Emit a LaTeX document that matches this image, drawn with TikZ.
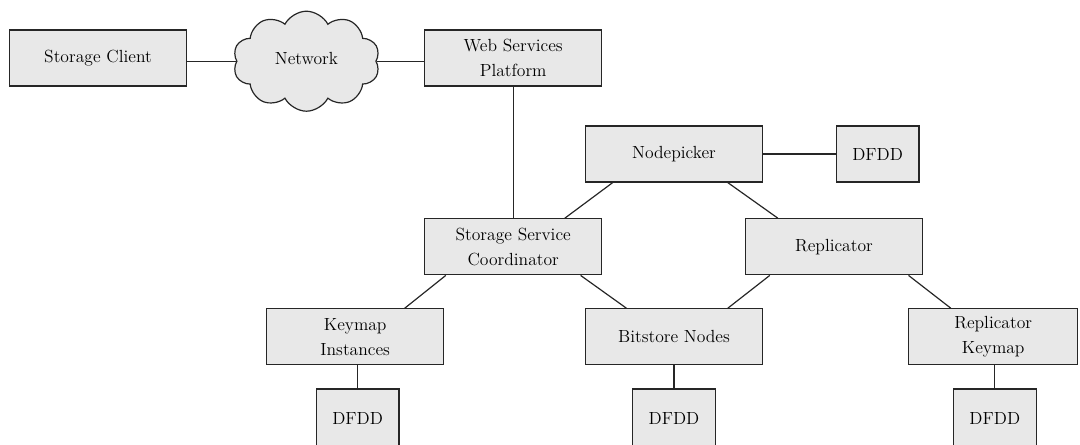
\documentclass[tikz,border=0pt]{standalone}
\usepackage{tikz}
\usetikzlibrary{shapes.symbols}

\begin{document}
\begin{tikzpicture}[main/.style = {draw=black!85, fill=black!9, line width=0.85pt, rectangle, align=center, font=\fontsize{12.5}{18}\selectfont},
        wide/.style = {main, minimum width=4.42cm, minimum height=1.4cm},
        small/.style = {main, minimum width=2.07cm, minimum height=1.4cm},
        low/.style = {main, minimum width=2.07cm, minimum height=1.45cm},
        ar/.style={draw=black!85, line width=0.85pt}]
        \clip (0,0) rectangle (27,-11.1);

        \node[wide] (client) at (2.45,-1.45) {Storage Client};
        \node[main, cloud, cloud puffs=10, cloud puff arc=125, aspect=1.5, minimum width=3.67cm, minimum height=2.5cm, inner sep=0pt] (network) at (7.66,-1.53) {\raisebox{4pt}{Network}};
        \node[wide] (platform) at (12.83,-1.45) {Web Services\\Platform};

        \node[wide] (picker) at (16.85,-3.85) {Nodepicker};
        \node[small] (dfdd1) at (21.94,-3.85) {DFDD};

        \node[wide] (coord) at (12.83,-6.17) {Storage Service\\Coordinator};
        \node[wide] (replicator) at (20.85,-6.17) {Replicator};

        \node[wide] (keymap) at (8.88,-8.42) {Keymap\\Instances};
        \node[wide] (bitstore) at (16.85,-8.42) {Bitstore Nodes};
        \node[main, minimum width=4.23cm, minimum height=1.4cm] (repkeymap) at (24.83,-8.42) {Replicator\\Keymap};

        \node[low] (dfdd2) at (8.94,-10.45) {DFDD};
        \node[low] (dfdd3) at (16.85,-10.45) {DFDD};
        \node[low] (dfdd4) at (24.87,-10.45) {DFDD};

        \draw[ar] (network.west -| client.east) -- (network.west);
        \draw[ar] (network.east) -- (network.east -| platform.west);
        \draw[ar] (platform.south) -- (coord.north);
        \draw[ar] (picker.east) -- (dfdd1.west);

        \draw[ar] (picker.205.8) -- (coord.29.5);
        \draw[ar] (picker.-28.8) -- (replicator.153.2);
        \draw[ar] (coord.203.5) -- (keymap.30.8);
        \draw[ar] (coord.-23.1) -- (bitstore.149.7);
        \draw[ar] (replicator.204.8) -- (bitstore.28.3);
        \draw[ar] (replicator.-21.9) -- (repkeymap.146.9);

        \draw[ar] (keymap.south -| dfdd2.north) -- (dfdd2.north);
        \draw[ar] (bitstore.south) -- (dfdd3.north);
        \draw[ar] (repkeymap.south -| dfdd4.north) -- (dfdd4.north);
    \end{tikzpicture}
\end{document}
